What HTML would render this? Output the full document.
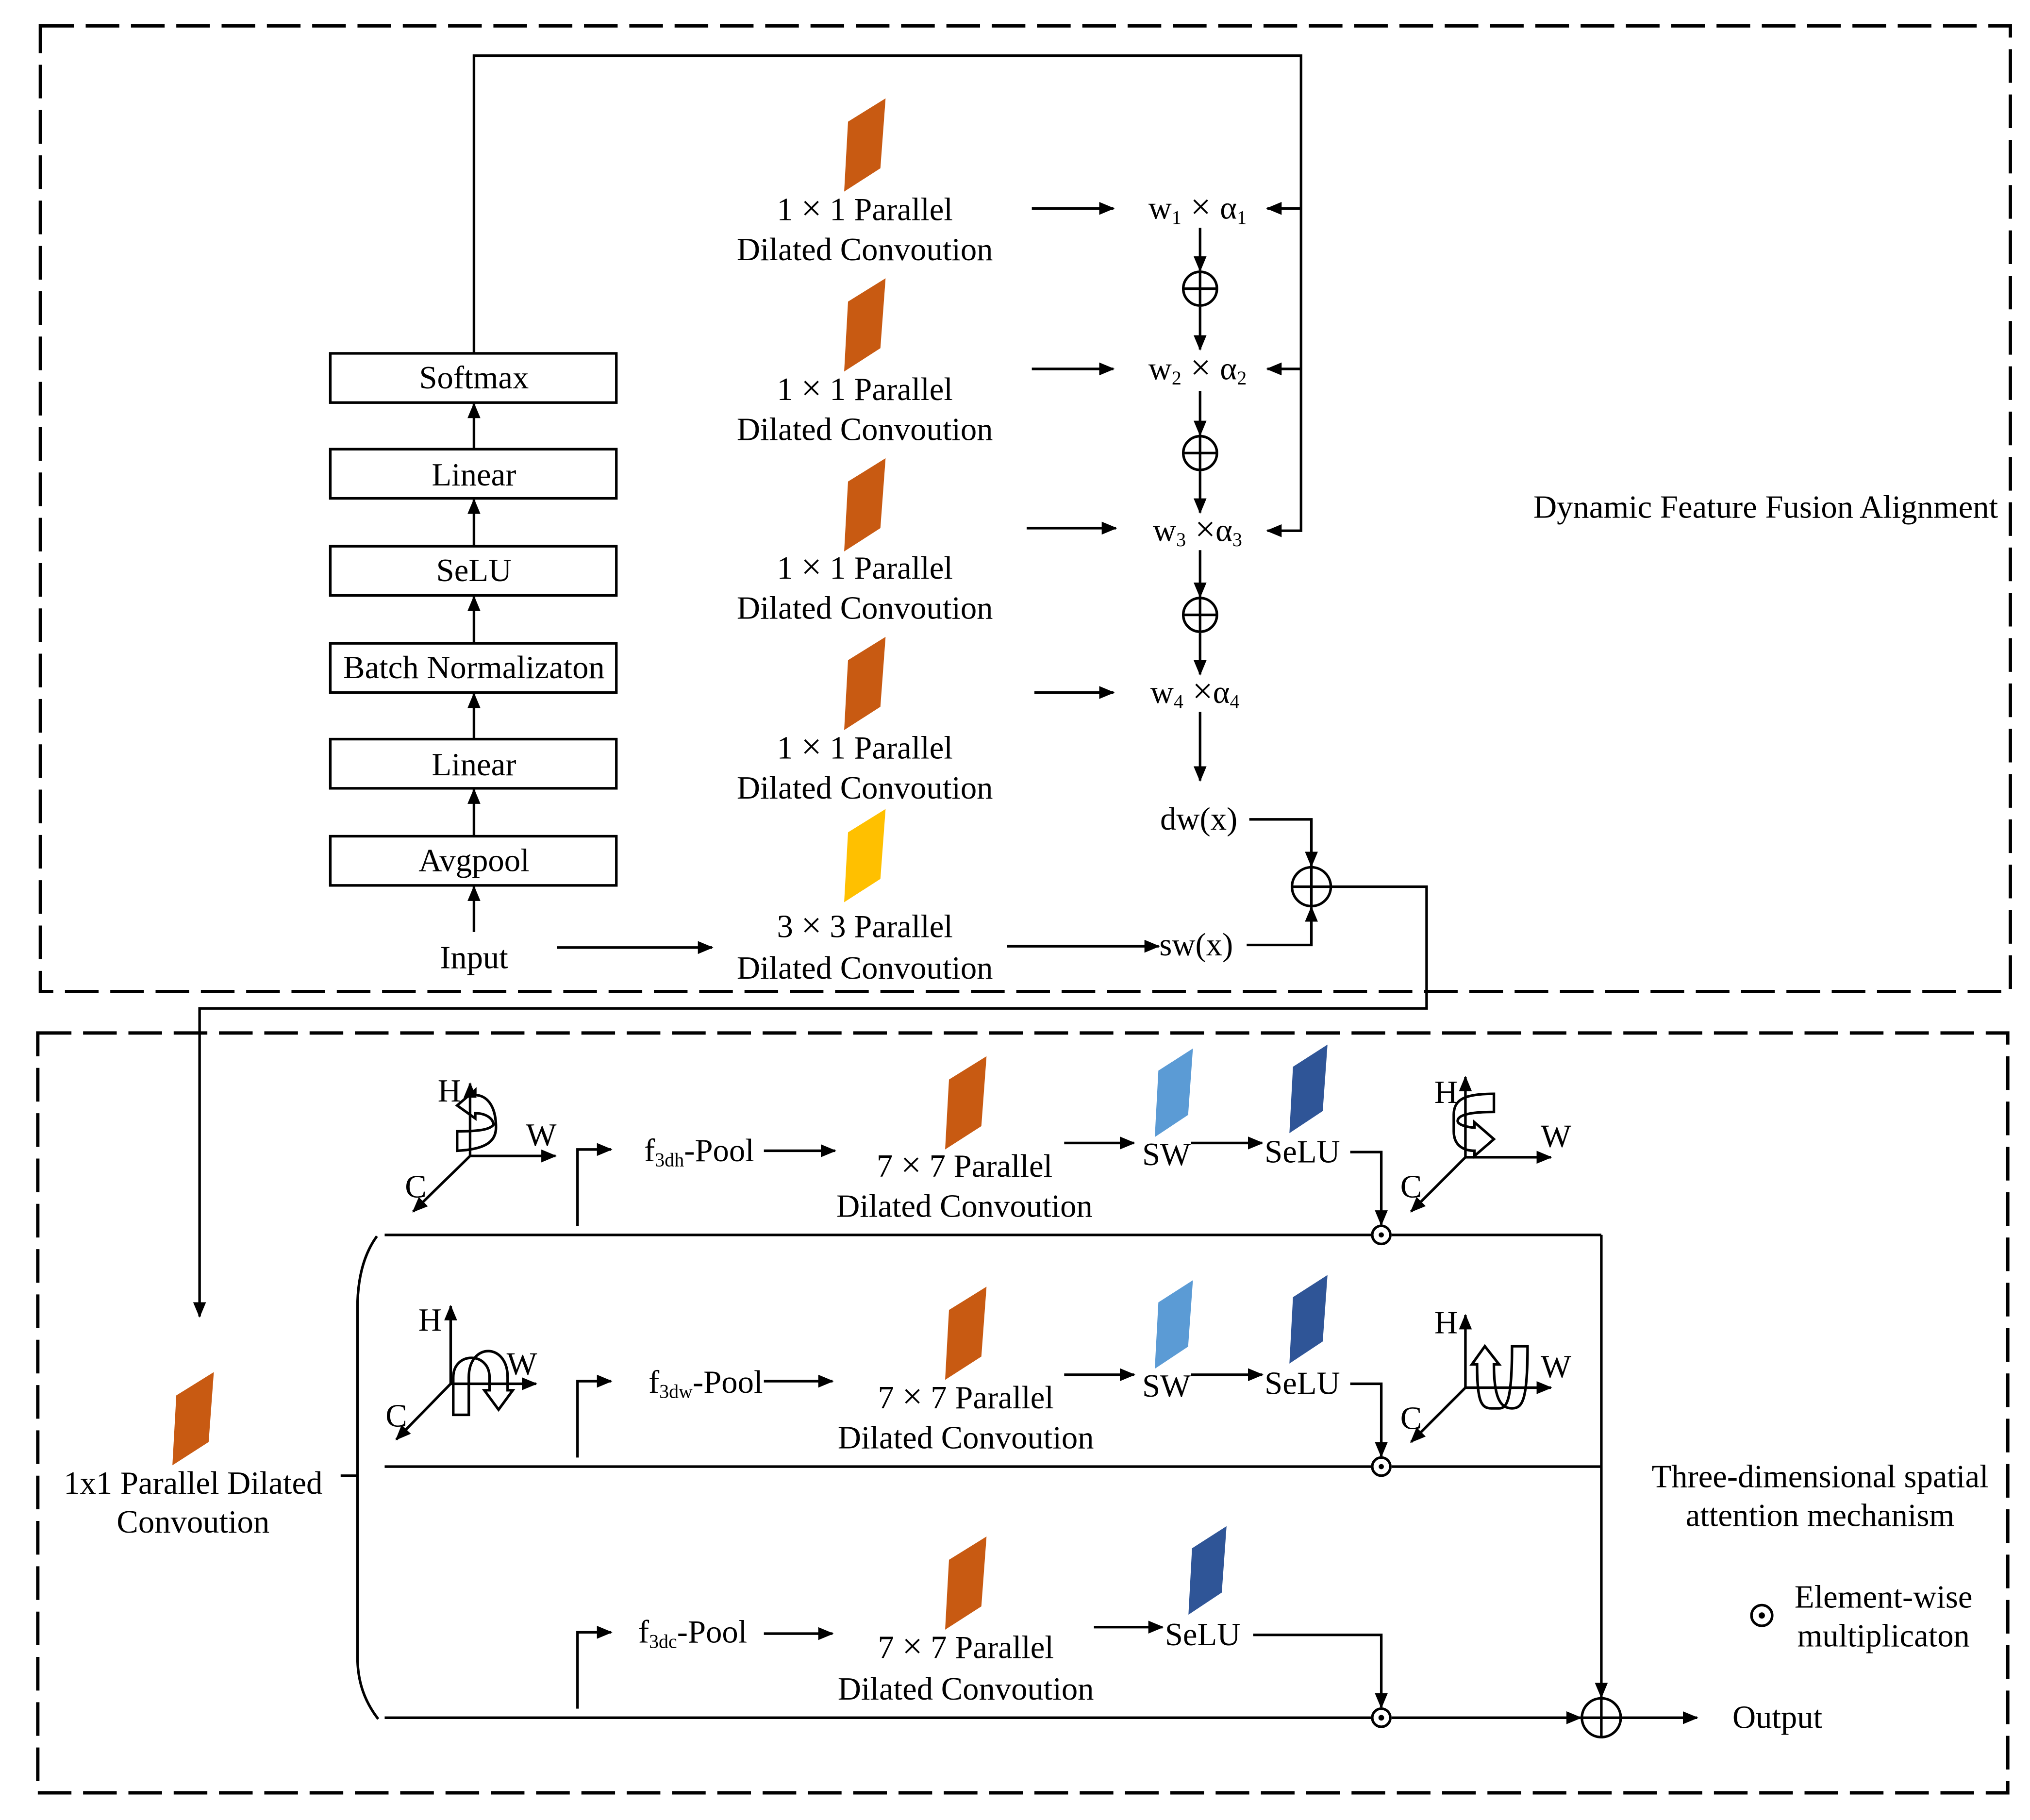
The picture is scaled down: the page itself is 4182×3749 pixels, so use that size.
<!DOCTYPE html>
<html><head><meta charset="utf-8"><style>html,body{margin:0;padding:0;background:#fff}svg{display:block}</style></head>
<body>
<svg width="4182" height="3749" viewBox="0 0 1568 1406" xmlns="http://www.w3.org/2000/svg" font-family="'Liberation Serif', serif" font-size="25" fill="#000">
<defs>
<marker id="a" viewBox="0 0 12 10" refX="11" refY="5" markerWidth="12" markerHeight="10" markerUnits="userSpaceOnUse" orient="auto"><path d="M0,0 L12,5 L0,10 Z" fill="#000"/></marker>
<polygon id="pg" points="3,18 32,0 28,54 0,72"/>
</defs>
<rect width="1568" height="1406" fill="#fff"/>
<g fill="none" stroke="#000" stroke-width="2.6" stroke-dasharray="26,9">
<rect x="31" y="20" width="1522" height="746"/>
<rect x="29" y="798" width="1522" height="587"/>
</g>
<g fill="none" stroke="#000" stroke-width="2">
<rect x="255" y="273" width="221" height="38"/>
<rect x="255" y="347" width="221" height="38"/>
<rect x="255" y="422" width="221" height="38"/>
<rect x="255" y="497" width="221" height="38"/>
<rect x="255" y="571" width="221" height="38"/>
<rect x="255" y="646" width="221" height="38"/>
</g>
<g stroke="#000" stroke-width="2" fill="none" marker-end="url(#a)">
<line x1="366" y1="347" x2="366" y2="312"/>
<line x1="366" y1="422" x2="366" y2="386"/>
<line x1="366" y1="497" x2="366" y2="461"/>
<line x1="366" y1="571" x2="366" y2="536"/>
<line x1="366" y1="646" x2="366" y2="610"/>
<line x1="366" y1="720" x2="366" y2="685"/>
<line x1="1005" y1="161" x2="979" y2="161"/>
<line x1="1005" y1="285" x2="979" y2="285"/>
<polyline points="366,273 366,43 1005,43 1005,410 979,410"/>
<line x1="797" y1="161" x2="860" y2="161"/>
<line x1="797" y1="285" x2="860" y2="285"/>
<line x1="793" y1="408" x2="862" y2="408"/>
<line x1="799" y1="535" x2="860" y2="535"/>
<line x1="927" y1="176" x2="927" y2="209"/>
<line x1="927" y1="237" x2="927" y2="270"/>
<line x1="927" y1="302" x2="927" y2="336"/>
<line x1="927" y1="364" x2="927" y2="396"/>
<line x1="927" y1="425" x2="927" y2="461"/>
<line x1="927" y1="489" x2="927" y2="521"/>
<line x1="927" y1="550" x2="927" y2="603"/>
<polyline points="965,633 1013,633 1013,669"/>
<polyline points="963,730 1013,730 1013,701"/>
<line x1="430" y1="732" x2="550" y2="732"/>
<line x1="778" y1="731" x2="895" y2="731"/>
<polyline points="1028,685 1102,685 1102,779 154,779 154,1017"/>
<polyline points="446,947 446,888 472,888"/>
<polyline points="446,1126 446,1067 472,1067"/>
<polyline points="446,1320 446,1261 472,1261"/>
<line x1="590" y1="889" x2="645" y2="889"/>
<line x1="590" y1="1067" x2="643" y2="1067"/>
<line x1="590" y1="1262" x2="643" y2="1262"/>
<line x1="822" y1="883" x2="876" y2="883"/>
<line x1="920" y1="883" x2="975" y2="883"/>
<line x1="822" y1="1062" x2="876" y2="1062"/>
<line x1="920" y1="1062" x2="975" y2="1062"/>
<line x1="845" y1="1257" x2="898" y2="1257"/>
<polyline points="1043,890 1067,890 1067,946"/>
<polyline points="1043,1069 1067,1069 1067,1125"/>
<polyline points="968,1263 1067,1263 1067,1319"/>
<line x1="1237" y1="954" x2="1237" y2="1311"/>
<line x1="1075" y1="1327" x2="1221" y2="1327"/>
<line x1="1252" y1="1327" x2="1311" y2="1327"/>
</g>
<g stroke="#000" stroke-width="2" fill="none">
<line x1="297" y1="954" x2="1059" y2="954"/><line x1="1075" y1="954" x2="1237" y2="954"/>
<line x1="297" y1="1133" x2="1059" y2="1133"/><line x1="1075" y1="1133" x2="1237" y2="1133"/>
<line x1="297" y1="1327" x2="1059" y2="1327"/>
<line x1="263" y1="1140" x2="276" y2="1140"/>
<path d="M291,955 C280,970 276,990 276,1010 L276,1280 C276,1300 282,1315 292,1328"/>
<circle cx="1067" cy="954" r="7"/><circle cx="1067" cy="1133" r="7"/><circle cx="1067" cy="1327" r="7"/><circle cx="1361" cy="1248" r="8"/>
<g><circle cx="927" cy="223" r="13"/><line x1="914" y1="223" x2="940" y2="223"/><line x1="927" y1="210" x2="927" y2="236"/></g>
<g><circle cx="927" cy="350" r="13"/><line x1="914" y1="350" x2="940" y2="350"/><line x1="927" y1="337" x2="927" y2="363"/></g>
<g><circle cx="927" cy="475" r="13"/><line x1="914" y1="475" x2="940" y2="475"/><line x1="927" y1="462" x2="927" y2="488"/></g>
<g><circle cx="1013" cy="685" r="15"/><line x1="998" y1="685" x2="1028" y2="685"/><line x1="1013" y1="670" x2="1013" y2="700"/></g>
<g><circle cx="1237" cy="1327" r="15"/><line x1="1222" y1="1327" x2="1252" y2="1327"/><line x1="1237" y1="1312" x2="1237" y2="1342"/></g>
</g>
<g fill="#000"><circle cx="1067" cy="954" r="2"/><circle cx="1067" cy="1133" r="2"/><circle cx="1067" cy="1327" r="2.2"/><circle cx="1361" cy="1248" r="2.4"/></g>
<g fill="#C85A12">
<use href="#pg" x="652" y="76"/><use href="#pg" x="652" y="215"/><use href="#pg" x="652" y="354"/><use href="#pg" x="652" y="492"/>
<use href="#pg" x="133" y="1060"/>
<use href="#pg" x="730" y="816"/><use href="#pg" x="730" y="994"/><use href="#pg" x="730" y="1187"/>
</g>
<use href="#pg" x="652" y="625" fill="#FFC000"/>
<g fill="#5B9BD5"><use href="#pg" x="892" y="810" transform="translate(892,810) scale(0.92,0.95) translate(-892,-810)"/><use href="#pg" x="892" y="989" transform="translate(892,989) scale(0.92,0.95) translate(-892,-989)"/></g>
<g fill="#2F5597"><use href="#pg" x="996" y="807" transform="translate(996,807) scale(0.92,0.95) translate(-996,-807)"/><use href="#pg" x="996" y="985" transform="translate(996,985) scale(0.92,0.95) translate(-996,-985)"/><use href="#pg" x="918" y="1179" transform="translate(918,1179) scale(0.92,0.95) translate(-918,-1179)"/></g>
<g stroke="#000" stroke-width="2" fill="none">
<g transform="translate(363,893)">
<line x1="0" y1="0" x2="0" y2="-56" marker-end="url(#a)"/><line x1="0" y1="0" x2="66" y2="0" marker-end="url(#a)"/><line x1="0" y1="0" x2="-44" y2="43" marker-end="url(#a)"/>
<path d="M-10,-4 C10,-5 20,-10 20,-22 C20,-40 12,-47 4,-47 L4,-51 L-10,-39 L4,-29 L4,-33 C12,-33 18,-29 18,-24 C15,-20 5,-19 -10,-19 Z"/>
</g>
<g transform="translate(348,1069)">
<line x1="0" y1="0" x2="0" y2="-60" marker-end="url(#a)"/><line x1="0" y1="0" x2="66" y2="0" marker-end="url(#a)"/><line x1="0" y1="0" x2="-42" y2="43" marker-end="url(#a)"/>
<path d="M2,24 L2,-5 C2,-25 30,-25 30,-5 L30,5 L26,5 L37,20 L48,5 L44,5 L44,-5 C44,-32 14,-32 14,-5 L14,24 Z"/>
</g>
<g transform="translate(1132,894)">
<line x1="0" y1="0" x2="0" y2="-62" marker-end="url(#a)"/><line x1="0" y1="0" x2="66" y2="0" marker-end="url(#a)"/><line x1="0" y1="0" x2="-42" y2="42" marker-end="url(#a)"/>
<path d="M22,-49 C0,-49 -9,-45 -9,-33 L-9,-20 C-9,-8 0,-5 7,-5 L7,-1 L22,-14 L7,-27 L7,-23 C2,-23 -6,-25 -6,-28 C-6,-33 5,-35 22,-35 Z"/>
</g>
<g transform="translate(1132,1072)">
<line x1="0" y1="0" x2="0" y2="-56" marker-end="url(#a)"/><line x1="0" y1="0" x2="66" y2="0" marker-end="url(#a)"/><line x1="0" y1="0" x2="-42" y2="42" marker-end="url(#a)"/>
<path d="M9,-18 L5,-18 L15,-32 L26,-18 L22,-18 C22,10 28,16 36,16 C44,16 48,10 48,-32 L36,-32 C36,10 32,16 26,16 L20,16 C12,16 9,10 9,-18 Z"/>
</g>
</g>
<g text-anchor="middle" style="white-space:pre">
<text x="366" y="300">Softmax</text>
<text x="366" y="375">Linear</text>
<text x="366" y="449">SeLU</text>
<text x="366" y="524">Batch Normalizaton</text>
<text x="366" y="599">Linear</text>
<text x="366" y="673">Avgpool</text>
<text x="366" y="748">Input</text>
<text x="668" y="170">1  <tspan font-size="28">×</tspan>  1 Parallel</text><text x="668" y="201">Dilated Convoution</text>
<text x="668" y="309">1  <tspan font-size="28">×</tspan>  1  Parallel</text><text x="668" y="340">Dilated Convoution</text>
<text x="668" y="447">1  <tspan font-size="28">×</tspan>  1  Parallel</text><text x="668" y="478">Dilated Convoution</text>
<text x="668" y="586">1  <tspan font-size="28">×</tspan>  1 Parallel</text><text x="668" y="617">Dilated Convoution</text>
<text x="668" y="724">3  <tspan font-size="28">×</tspan>  3  Parallel</text><text x="668" y="756">Dilated Convoution</text>
<text x="925" y="169">w<tspan font-size="15" dy="4">1</tspan><tspan dy="-4" font-size="28"> × </tspan><tspan>α</tspan><tspan font-size="15" dy="4">1</tspan></text>
<text x="925" y="293">w<tspan font-size="15" dy="4">2</tspan><tspan dy="-4" font-size="28"> × </tspan><tspan>α</tspan><tspan font-size="15" dy="4">2</tspan></text>
<text x="925" y="418">w<tspan font-size="15" dy="4">3</tspan><tspan dy="-4" font-size="28"> ×</tspan><tspan>α</tspan><tspan font-size="15" dy="4">3</tspan></text>
<text x="923" y="543">w<tspan font-size="15" dy="4">4</tspan><tspan dy="-4" font-size="28"> ×</tspan><tspan>α</tspan><tspan font-size="15" dy="4">4</tspan></text>
<text x="926" y="641">dw(x)</text>
<text x="924" y="738">sw(x)</text>
<text x="1364" y="400">Dynamic Feature Fusion Alignment</text>
<text x="540" y="897">f<tspan font-size="15" dy="4">3dh</tspan><tspan dy="-4">-Pool</tspan></text>
<text x="545" y="1076">f<tspan font-size="15" dy="4">3dw</tspan><tspan dy="-4">-Pool</tspan></text>
<text x="535" y="1269">f<tspan font-size="15" dy="4">3dc</tspan><tspan dy="-4">-Pool</tspan></text>
<text x="745" y="909">7  <tspan font-size="28">×</tspan>  7 Parallel</text><text x="745" y="940">Dilated Convoution</text>
<text x="746" y="1088">7  <tspan font-size="28">×</tspan>  7  Parallel</text><text x="746" y="1119">Dilated Convoution</text>
<text x="746" y="1281">7  <tspan font-size="28">×</tspan>  7 Parallel</text><text x="746" y="1313">Dilated Convoution</text>
<text x="901" y="900">SW</text><text x="1006" y="898">SeLU</text>
<text x="901" y="1079">SW</text><text x="1006" y="1077">SeLU</text>
<text x="929" y="1271">SeLU</text>
<text x="149" y="1154">1x1 Parallel Dilated</text><text x="149" y="1184">Convoution</text>
<text x="1373" y="1335">Output</text>
<text x="1406" y="1149">Three-dimensional spatial</text><text x="1406" y="1179">attention mechanism</text>
<text x="1455" y="1242">Element-wise</text><text x="1455" y="1272">multiplicaton</text>
<text x="347" y="851">H</text><text x="418" y="885">W</text><text x="321" y="925">C</text>
<text x="332" y="1028">H</text><text x="403" y="1062">W</text><text x="306" y="1102">C</text>
<text x="1117" y="852">H</text><text x="1202" y="886">W</text><text x="1090" y="925">C</text>
<text x="1117" y="1030">H</text><text x="1202" y="1064">W</text><text x="1090" y="1104">C</text>
</g>
</svg>
</body></html>
